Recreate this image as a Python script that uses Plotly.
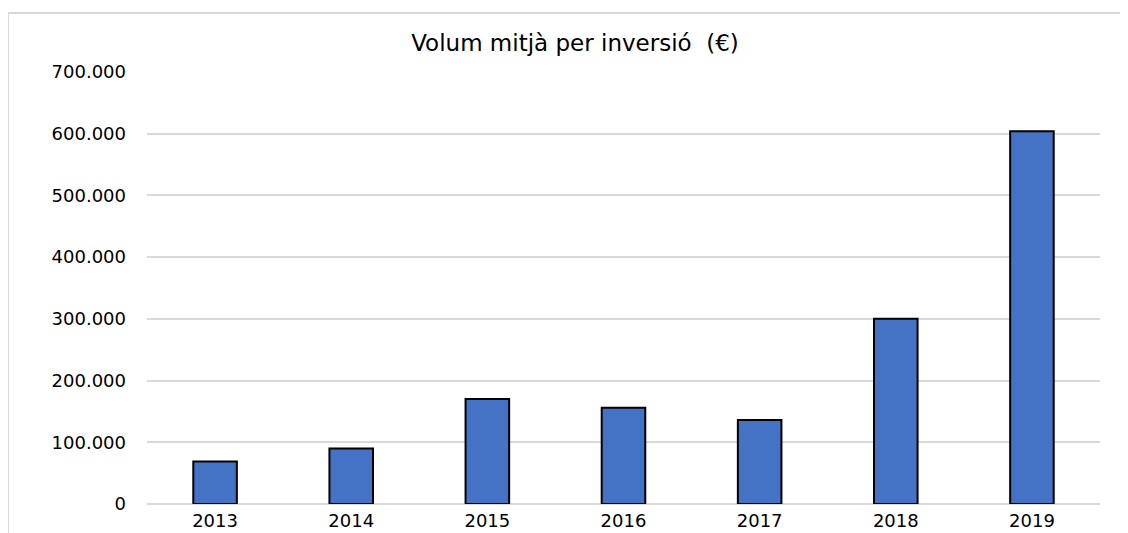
import plotly.graph_objects as go

years = ["2013", "2014", "2015", "2016", "2017", "2018", "2019"]
volum = [69000, 90000, 170000, 156000, 136000, 300000, 604000]
y_ticks = [0, 100000, 200000, 300000, 400000, 500000, 600000, 700000]
title_text = "Volum mitjà per inversió  (€)"

# page body has an 8px margin, so the figure is offset by 8px
OFF = 8
W, H = 1128 - OFF, 533 - OFF
L, R, T, B = 147 - OFF, 28, 72 - OFF, 29
pw, ph = W - L - R, H - T - B

def px_x(p):
    return (p - OFF - L) / pw

def px_y(p):
    return (H - B - (p - OFF)) / ph

fig = go.Figure(go.Bar(
    x=years, y=volum,
    marker=dict(color="#4472C4", line=dict(color="black", width=2)),
    width=0.32,
))

font = "DejaVu Sans"
fig.update_layout(
    width=W, height=H,
    margin=dict(l=L, r=R, t=T, b=B, autoexpand=False),
    paper_bgcolor="white", plot_bgcolor="white",
    separators=",.",
    showlegend=False,
    title=dict(text=title_text, x=(575 - OFF) / W, xanchor="center", xref="container",
               y=1 - (43 - OFF) / H, yanchor="middle", yref="container",
               font=dict(family=font, size=23, color="black")),
    xaxis=dict(showgrid=False, showline=False, ticks="", automargin=False,
               ticklabelstandoff=4,
               tickfont=dict(family=font, size=18, color="black")),
    yaxis=dict(range=[0, 700000], tickvals=y_ticks, tickformat=",d", automargin=False,
               showgrid=True, gridcolor="#d9d9d9", gridwidth=2,
               zeroline=True, zerolinecolor="#d9d9d9", zerolinewidth=2,
               showline=False, ticks="", ticklabelstandoff=20,
               tickfont=dict(family=font, size=18, color="black")),
    shapes=[dict(type="rect", xref="paper", yref="paper",
                 x0=px_x(8), x1=px_x(1140), y0=px_y(545), y1=px_y(13),
                 line=dict(color="#d9d9d9", width=2), layer="below")],
)

fig.write_html("out.html")
